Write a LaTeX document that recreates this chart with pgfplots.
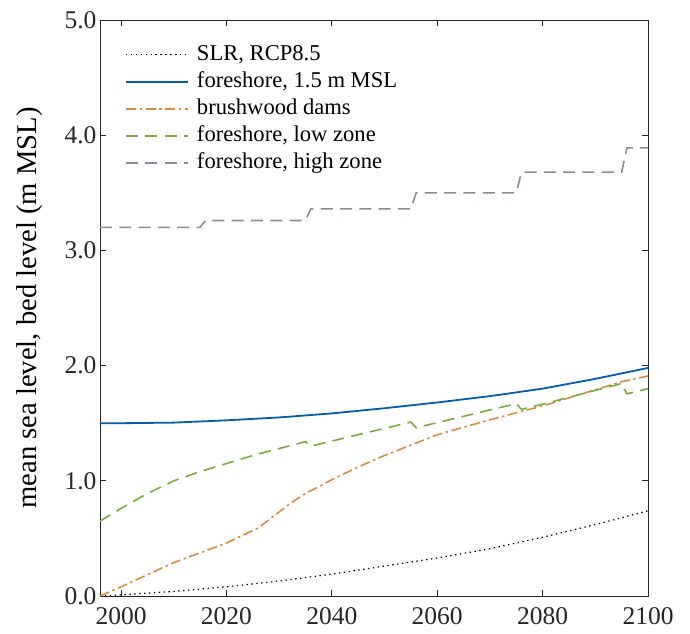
\documentclass[border=0pt]{standalone}
\usepackage{fontspec}
\setmainfont{Liberation Serif}
\usepackage{pgfplots}
\pgfplotsset{compat=1.18}

\definecolor{mblue}{RGB}{0,94,172}
\definecolor{morange}{RGB}{217,140,60}
\definecolor{mgreen}{RGB}{119,172,60}
\definecolor{mpurple}{RGB}{138,138,162}
\definecolor{axgray}{RGB}{38,38,38}

\begin{document}
\begin{tikzpicture}
\begin{axis}[
    scale only axis,
    width=548pt, height=576pt,
    xmin=1996, xmax=2100,
    ymin=0, ymax=5,
    xtick={2000,2020,...,2100},
    ytick={0,1,...,5},
    tick align=inside,
    major tick length=6pt,
    axis line style={axgray, line width=0.9pt},
    every tick/.style={axgray, line width=0.9pt},
    ticklabel style={font=\fontsize{25.5}{30}\selectfont, text=axgray},
    /pgf/number format/assume math mode=true,
    xticklabel={\pgfmathprintnumber[1000 sep=]{\tick}},
    yticklabel={\pgfmathprintnumber[fixed, fixed zerofill, precision=1]{\tick}},
    xticklabel shift=8pt,
    ylabel={mean sea level, bed level (m MSL)},
    every axis y label/.style={at={(axis description cs:-0.115,0.5)},
        rotate=90, anchor=base, font=\fontsize{28.6}{32}\selectfont},
    legend style={draw=none, fill=none, inner sep=0pt,
        at={(axis description cs:0,1)}, anchor=north west,
        xshift=25pt, yshift=-21pt, column sep=8pt,
        font=\fontsize{22.6}{27}\selectfont,
        nodes={inner sep=0pt, text height=19pt, text depth=8pt}},
    legend cell align=left,
    legend image code/.code={\draw[#1] (0pt,0pt) -- (62pt,0pt);},
]

% sea level rise
\addplot[black, line width=1.2pt, dash pattern=on 1.4pt off 3.5pt] coordinates {
    (1996,0) (2000,0.01) (2010,0.04) (2020,0.08) (2030,0.13) (2040,0.19)
    (2050,0.26) (2060,0.33) (2070,0.41) (2080,0.51) (2090,0.62) (2100,0.74)
};
\addlegendentry{SLR, RCP8.5}

% foreshore at 1.5 m
\addplot[mblue, line width=1.8pt] coordinates {
    (1996,1.50) (2000,1.50) (2010,1.505) (2020,1.525) (2030,1.55) (2040,1.585)
    (2050,1.63) (2060,1.68) (2070,1.735) (2080,1.80) (2090,1.885) (2100,1.98)
};
\addlegendentry{foreshore, 1.5 m MSL}

% brushwood dams
\addplot[morange, line width=1.6pt,
    dash pattern=on 10pt off 3.5pt on 2.5pt off 3.5pt] coordinates {
    (1996,0) (2000,0.08) (2010,0.29) (2020,0.46) (2026,0.59) (2028,0.66)
    (2030,0.73) (2032,0.80) (2035,0.89) (2038,0.96) (2040,1.01) (2045,1.12)
    (2050,1.22) (2060,1.40) (2070,1.53) (2080,1.65) (2090,1.79) (2095,1.86)
    (2100,1.91)
};
\addlegendentry{brushwood dams}

% low zone
\addplot[mgreen, line width=1.6pt, dash pattern=on 12pt off 7.3pt] coordinates {
    (1996,0.65) (2000,0.76) (2005,0.89) (2010,1.00) (2015,1.08) (2020,1.15)
    (2025,1.22) (2030,1.28) (2035,1.34) (2036,1.30) (2040,1.345) (2045,1.40)
    (2050,1.455) (2055,1.51) (2056,1.46) (2060,1.505) (2065,1.56) (2070,1.615)
    (2075,1.67) (2076,1.62) (2080,1.665) (2085,1.725) (2090,1.785) (2095,1.845)
    (2096,1.755) (2100,1.80)
};
\addlegendentry{foreshore, low zone}

% high zone
\addplot[mpurple, line width=1.6pt, dash pattern=on 12pt off 7.3pt] coordinates {
    (1996,3.20) (2015,3.20) (2016,3.26) (2035,3.26) (2036,3.36) (2055,3.36)
    (2056,3.50) (2075,3.50) (2076,3.68) (2095,3.68) (2096,3.89) (2100,3.89)
};
\addlegendentry{foreshore, high zone}

\end{axis}
\pgfresetboundingbox
\path[use as bounding box] (-100pt,-37pt) rectangle (590pt,596pt);
\end{tikzpicture}
\end{document}
